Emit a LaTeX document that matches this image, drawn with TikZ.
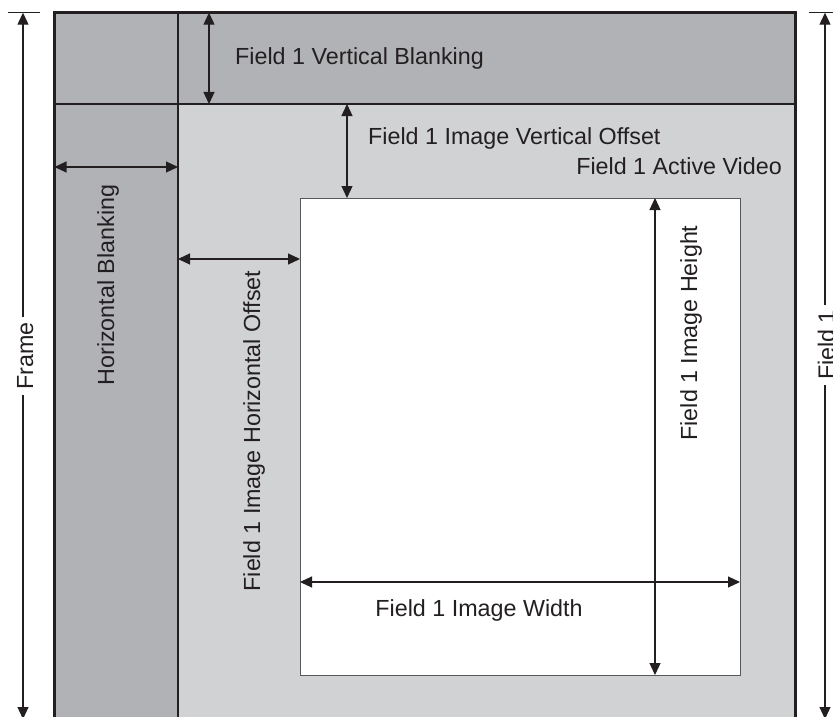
\documentclass[tikz,border=0pt]{standalone}
\usepackage{fontspec}
\setmainfont{Liberation Sans}
\usetikzlibrary{arrows.meta}
\definecolor{darkfill}{RGB}{177,178,181}
\definecolor{lightfill}{RGB}{209,210,212}
\definecolor{ink}{RGB}{35,31,32}
\definecolor{edgegray}{RGB}{88,89,91}
\tikzset{
  dimarrow/.style={draw=ink, line width=1.2pt,
    {Triangle[length=12pt,width=11pt]}-{Triangle[length=12pt,width=11pt]}},
  lbl/.style={font=\fontsize{23.3}{28}\selectfont, text=ink, inner sep=0pt},
  thinline/.style={draw=ink, line width=1.1pt},
}
\begin{document}
\begin{tikzpicture}[x=1pt,y=-1pt]
\useasboundingbox (0,0) rectangle (833,717);
\clip (0,0) rectangle (833,717);
% regions
\fill[darkfill] (54.5,12.7) rectangle (795,730);
\fill[lightfill] (178,104) rectangle (795,730);
\node[draw=edgegray, line width=1.1pt, fill=white, minimum width=440pt, minimum height=477pt, inner sep=0pt, anchor=north west] (img) at (300,198) {};
\draw[thinline] (178,12.7) -- (178,730);
\draw[thinline] (54.5,104) -- (795,104);
\draw[ink, line width=3pt] (54.5,730) -- (54.5,12.7) -- (795,12.7) -- (795,730);
% coordinates
\coordinate (vbT) at (209,12.7);
\coordinate (vbB) at (209,104);
\coordinate (hbL) at (54.5,167);
\coordinate (hbR) at (178,167);
\coordinate (voT) at (347,104);
\coordinate (voB) at (347,198);
\coordinate (hoL) at (178,259);
\coordinate (hoR) at (300,259);
\coordinate (ihT) at (655,198);
\coordinate (ihB) at (655,675);
\coordinate (iwL) at (300,582);
\coordinate (iwR) at (740,582);
\coordinate (frT) at (23,12.7);
\coordinate (frB) at (23,719);
\coordinate (fdT) at (825,12.7);
\coordinate (fdB) at (825,719);
% dimension arrows
\draw[dimarrow] (vbT) -- (vbB);
\draw[dimarrow] (hbL) -- (hbR);
\draw[dimarrow] (voT) -- (voB);
\draw[dimarrow] (hoL) -- (hoR);
\draw[dimarrow] (ihT) -- (ihB);
\draw[dimarrow] (iwL) -- (iwR);
\draw[dimarrow] (frT) -- (frB);
\draw[dimarrow] (fdT) -- (fdB);
% ticks
\coordinate (frtk1) at (8,12.7);
\coordinate (frtk2) at (40,12.7);
\coordinate (fdtk1) at (809,12.7);
\coordinate (fdtk2) at (840,12.7);
\draw[thinline] (frtk1) -- (frtk2);
\draw[thinline] (fdtk1) -- (fdtk2);
% labels
\node[lbl, anchor=base west] (tvb) at (235,65) {Field 1 Vertical Blanking};
\node[lbl, anchor=base west] (tvo) at (368,144) {Field 1 Image Vertical Offset};
\node[lbl, anchor=base east] (tav) at (782,174) {Field 1 Active Video};
\node[lbl, anchor=base, rotate=90] (thb) at (114,285) {Horizontal Blanking};
\node[lbl, anchor=base, rotate=90] (tho) at (260,431) {Field 1 Image Horizontal Offset};
\node[lbl, anchor=base, rotate=90] (tih) at (697,333) {Field 1 Image Height};
\node[lbl, anchor=base] (tiw) at (479,616) {Field 1 Image Width};
\node[lbl, anchor=base, rotate=90, fill=white, inner xsep=5pt] (tfr) at (33,356) {Frame};
\node[lbl, anchor=base, rotate=90, fill=white, inner xsep=5pt] (tfd) at (834.5,345) {Field 1};
\end{tikzpicture}
\end{document}
